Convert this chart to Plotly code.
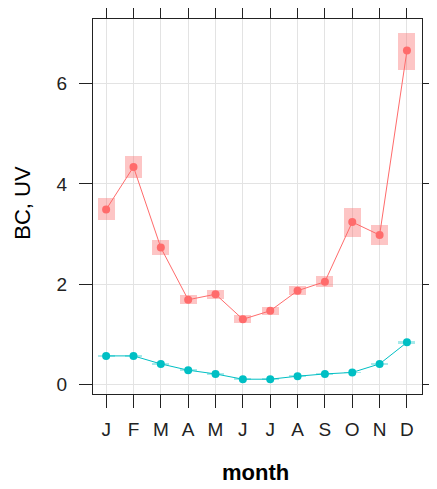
import plotly.graph_objects as go

months = ["J", "F", "M", "A", "M", "J", "J", "A", "S", "O", "N", "D"]
month_num = list(range(1, 13))

bc_mean = [3.49, 4.34, 2.73, 1.69, 1.80, 1.30, 1.47, 1.87, 2.05, 3.24, 2.98, 6.66]
bc_lower = [3.29, 4.11, 2.58, 1.60, 1.71, 1.22, 1.38, 1.78, 1.95, 2.94, 2.78, 6.28]
bc_upper = [3.71, 4.56, 2.88, 1.78, 1.88, 1.38, 1.55, 1.97, 2.16, 3.53, 3.18, 7.02]

uv_mean = [0.57, 0.57, 0.41, 0.285, 0.21, 0.105, 0.105, 0.165, 0.21, 0.24, 0.41, 0.84]
uv_lower = [0.55, 0.55, 0.39, 0.27, 0.195, 0.09, 0.09, 0.15, 0.195, 0.225, 0.39, 0.81]
uv_upper = [0.59, 0.59, 0.43, 0.30, 0.225, 0.12, 0.12, 0.18, 0.225, 0.255, 0.43, 0.87]

y_ticks = [0, 2, 4, 6]

RED = "#FF6B6B"
CYAN = "#00BFC4"

fig = go.Figure()

for lo, hi, col in [(bc_lower, bc_upper, "rgba(250,110,110,0.40)"),
                    (uv_lower, uv_upper, "rgba(0,191,196,0.35)")]:
    fig.add_trace(go.Bar(
        x=month_num, y=[h - l for h, l in zip(hi, lo)], base=lo,
        width=0.62, marker=dict(color=col, line=dict(width=0)),
        hoverinfo="skip", showlegend=False))

for y, col in [(bc_mean, RED), (uv_mean, CYAN)]:
    fig.add_trace(go.Scatter(
        x=month_num, y=y, mode="lines+markers",
        line=dict(color=col, width=1),
        marker=dict(color=col, size=8),
        showlegend=False))

axis_common = dict(
    showline=True, linecolor="#222222", linewidth=1, mirror="ticks",
    ticks="outside", ticklen=13, tickcolor="#222222", tickwidth=1,
    showgrid=True, gridcolor="#E3E3E3", gridwidth=1, zeroline=False,
    automargin=False,
    tickfont=dict(family="Liberation Sans, Arial", size=19, color="#222222"),
)

fig.update_layout(
    width=437, height=489,
    margin=dict(l=85, r=23, t=11, b=103),
    paper_bgcolor="white", plot_bgcolor="white",
    barmode="overlay", bargap=0,
    xaxis=dict(range=[0.52, 12.55], tickmode="array", tickvals=month_num,
               ticktext=months, ticklabelstandoff=5, **axis_common),
    yaxis=dict(range=[-0.19, 7.29], tickmode="array", tickvals=y_ticks,
               ticktext=[str(v) for v in y_ticks], ticklabelstandoff=8,
               **axis_common),
    annotations=[
        dict(text="month", xref="paper", yref="paper", x=0.495, y=0,
             xanchor="center", yanchor="middle", yshift=-78, showarrow=False,
             font=dict(family="Liberation Sans, Arial", size=22, color="black",
                       weight="bold")),
        dict(text="BC, UV", xref="paper", yref="paper", x=0, y=0.51,
             xanchor="center", yanchor="middle", xshift=-70, textangle=-90,
             showarrow=False,
             font=dict(family="Liberation Sans, Arial", size=22, color="black")),
    ],
)

fig.write_html("out.html")
